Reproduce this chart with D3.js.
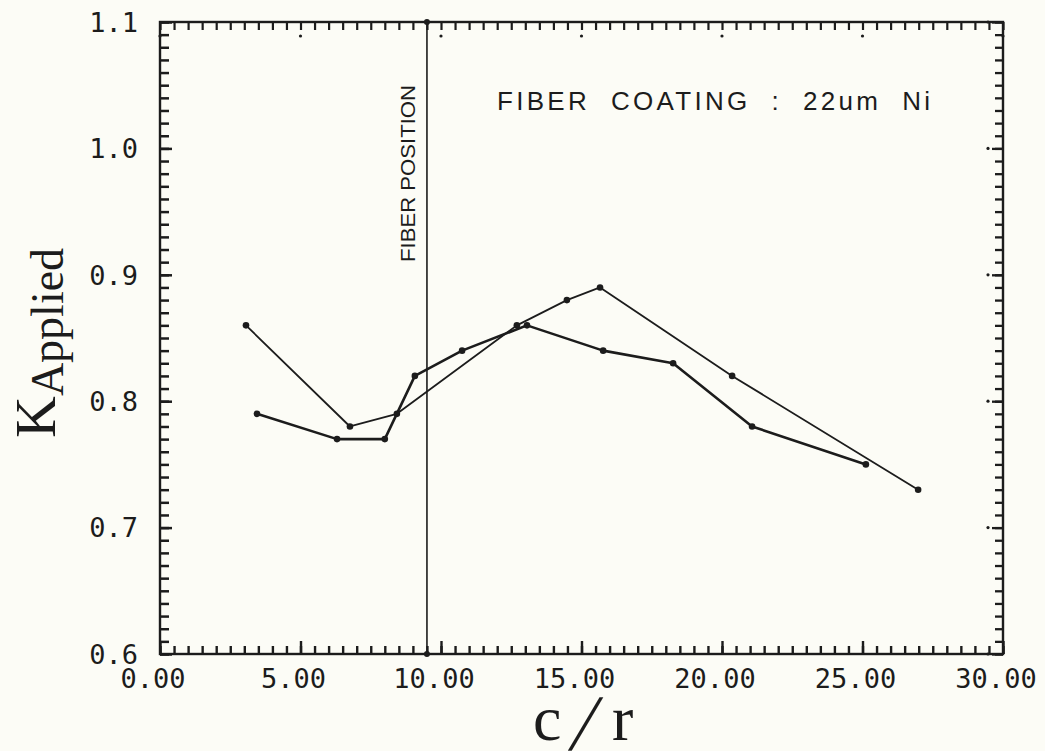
<!DOCTYPE html>
<html>
<head>
<meta charset="utf-8">
<script src="https://cdn.jsdelivr.net/npm/d3@7"></script>
<style>
  html, body { margin: 0; padding: 0; background: #fcfcf6; }
  svg { display: block; }
</style>
</head>
<body>
<svg id="chart" width="1045" height="751"></svg>
<script>
// Crack length ratio c/r vs applied stress intensity, 22um Ni coated fiber
const seriesAx = [3.06, 6.76, 8.43, 12.70, 14.48, 15.66, 20.36, 26.98];
const seriesAy = [0.86, 0.78, 0.79, 0.86, 0.88, 0.89, 0.82, 0.73];
const seriesBx = [3.45, 6.30, 8.00, 9.07, 10.75, 13.06, 15.77, 18.26, 21.07, 25.12];
const seriesBy = [0.79, 0.77, 0.77, 0.82, 0.84, 0.86, 0.84, 0.83, 0.78, 0.75];
const fiberPosition = 9.5;

const xTickValues = [0, 5, 10, 15, 20, 25, 30];
const xTickLabels = ["0.00", "5.00", "10.00", "15.00", "20.00", "25.00", "30.00"];
const yTickValues = [0.6, 0.7, 0.8, 0.9, 1.0, 1.1];
const yTickLabels = ["0.6", "0.7", "0.8", "0.9", "1.0", "1.1"];

const ink = "#1c1c1c";
const svg = d3.select("#chart");

const plotL = 160, plotR = 1003, plotT = 22, plotB = 654;
const x = d3.scaleLinear().domain([0, 30]).range([plotL, plotR]);
const y = d3.scaleLinear().domain([0.6, 1.1]).range([plotB, plotT]);

// frame first, everything else on top of it
svg.append("rect")
  .attr("x", plotL).attr("y", plotT)
  .attr("width", plotR - plotL).attr("height", plotB - plotT)
  .attr("fill", "none").attr("stroke", ink).attr("stroke-width", 2.4);

// minor tick positions: every 0.5 along c/r, every 0.01 along K
const xMinor = d3.range(0, 61).map(i => i * 0.5);
const yMinor = d3.range(0, 51).map(i => +(0.6 + i * 0.01).toFixed(2));

// inward tick marks built with d3 axes
const tickLayer = svg.append("g").attr("class", "ticks");
function tickAxis(axis, transform, width) {
  const a = tickLayer.append("g").attr("transform", transform).call(axis);
  a.select(".domain").remove();
  a.selectAll(".tick text").remove();
  a.selectAll(".tick line")
    .style("stroke", ink)
    .style("stroke-width", width + "px")
    .style("stroke-opacity", 1);
  return a;
}
tickAxis(d3.axisBottom(x).tickValues(xMinor).tickSize(-8).tickFormat(""), `translate(0,${plotB})`, 2.4);
tickAxis(d3.axisBottom(x).tickValues(xTickValues).tickSize(-13).tickFormat(""), `translate(0,${plotB})`, 2.4);
tickAxis(d3.axisTop(x).tickValues(xMinor).tickSize(-8).tickFormat(""), `translate(0,${plotT})`, 2.2);
tickAxis(d3.axisLeft(y).tickValues(yMinor).tickSize(-9).tickFormat(""), `translate(${plotL},0)`, 2.5);
tickAxis(d3.axisLeft(y).tickValues(yTickValues).tickSize(-12).tickFormat(""), `translate(${plotL},0)`, 2.5);
tickAxis(d3.axisRight(y).tickValues(yMinor).tickSize(-8).tickFormat(""), `translate(${plotR},0)`, 2.3);
tickAxis(d3.axisRight(y).tickValues(yTickValues).tickSize(-11).tickFormat(""), `translate(${plotR},0)`, 2.3);

const g = svg.append("g");

// dots beside the major ticks on the top and right edges
g.append("g").selectAll("circle").data(xTickValues).join("circle")
  .attr("cx", d => x(d)).attr("cy", plotT + 14).attr("r", 1.6).attr("fill", ink);
g.append("g").selectAll("circle").data(yTickValues).join("circle")
  .attr("cx", plotR - 15).attr("cy", d => y(d)).attr("r", 1.6).attr("fill", ink);

// tick labels
const monoFont = "'DejaVu Sans Mono', 'Liberation Mono', monospace";
g.append("g").selectAll("text").data(xTickValues).join("text")
  .attr("x", d => x(d) - 7).attr("y", 688)
  .attr("text-anchor", "middle")
  .attr("font-family", monoFont).attr("font-size", 27)
  .attr("fill", ink)
  .text((d, i) => xTickLabels[i]);

g.append("g").selectAll("text").data(yTickValues).join("text")
  .attr("x", 138).attr("y", d => y(d))
  .attr("dy", "0.36em")
  .attr("text-anchor", "end")
  .attr("font-family", monoFont).attr("font-size", 27)
  .attr("fill", ink)
  .text((d, i) => yTickLabels[i]);

// fiber position marker
g.append("rect")
  .attr("x", x(fiberPosition) - 0.8).attr("y", plotT)
  .attr("width", 1.6).attr("height", plotB - plotT)
  .attr("fill", ink);
g.append("circle").attr("cx", x(fiberPosition)).attr("cy", plotT).attr("r", 3).attr("fill", ink);
g.append("circle").attr("cx", x(fiberPosition)).attr("cy", plotB).attr("r", 3).attr("fill", ink);

const sansFont = "'Liberation Sans', Arial, sans-serif";
g.append("text")
  .attr("transform", `translate(${x(fiberPosition) - 12},262) rotate(-90)`)
  .attr("font-family", sansFont).attr("font-size", 20)
  .attr("textLength", 177).attr("lengthAdjust", "spacingAndGlyphs")
  .attr("fill", ink)
  .text("FIBER POSITION");

g.append("text")
  .attr("x", 497).attr("y", 110)
  .attr("font-family", sansFont).attr("font-size", 26)
  .attr("textLength", 433).attr("lengthAdjust", "spacing")
  .style("white-space", "pre")
  .attr("fill", ink)
  .text("FIBER  COATING  :  22um  Ni");

// data lines
const lineGen = d3.line().x(d => x(d[0])).y(d => y(d[1]));
const ptsA = seriesAx.map((v, i) => [v, seriesAy[i]]);
const ptsB = seriesBx.map((v, i) => [v, seriesBy[i]]);

g.append("path").datum(ptsA).attr("d", lineGen)
  .attr("fill", "none").attr("stroke", ink).attr("stroke-width", 1.8)
  .attr("stroke-linejoin", "round");
g.append("path").datum(ptsB).attr("d", lineGen)
  .attr("fill", "none").attr("stroke", ink).attr("stroke-width", 2.6)
  .attr("stroke-linejoin", "round");

g.append("g").selectAll("circle").data(ptsA.concat(ptsB)).join("circle")
  .attr("cx", d => x(d[0])).attr("cy", d => y(d[1]))
  .attr("r", 3.3).attr("fill", ink);

// axis titles
const serif = "'Liberation Serif', 'Times New Roman', serif";
const yTitle = g.append("text")
  .attr("transform", "translate(55,438) rotate(-90)")
  .attr("font-family", serif).attr("fill", ink);
yTitle.append("tspan").attr("font-size", 58).text("K");
yTitle.append("tspan").attr("font-size", 46).attr("dy", 8).text("Applied");

g.append("text").attr("x", 533).attr("y", 740)
  .attr("font-family", serif).attr("font-size", 64).attr("fill", ink).text("c");
g.append("text").attr("transform", "translate(568,750) skewX(-14)")
  .attr("font-family", serif).attr("font-size", 80).attr("font-weight", 300)
  .attr("fill", ink).text("/");
g.append("text").attr("x", 612).attr("y", 740)
  .attr("font-family", serif).attr("font-size", 64).attr("fill", ink).text("r");
</script>
</body>
</html>
